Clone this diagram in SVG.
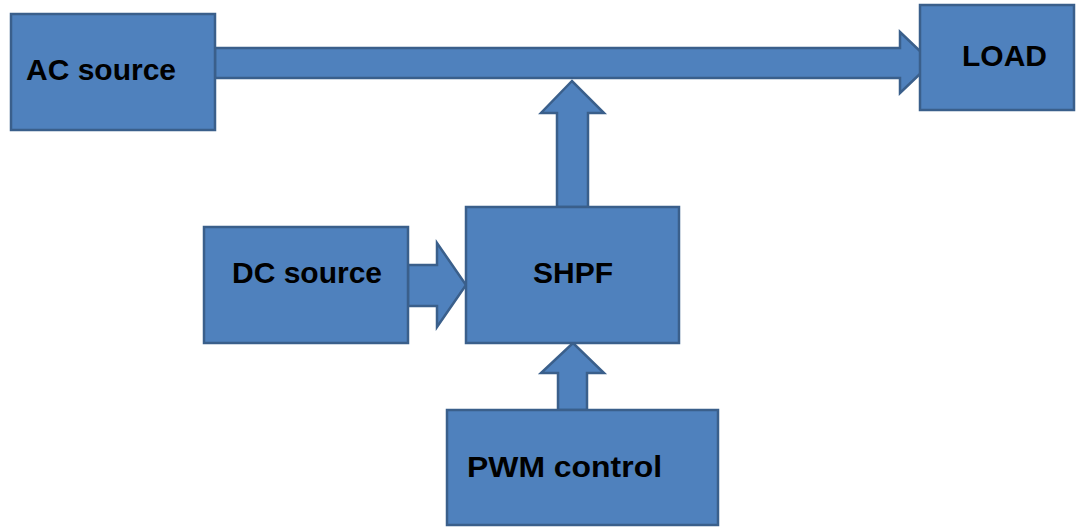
<svg xmlns="http://www.w3.org/2000/svg" width="1076" height="527" viewBox="0 0 1076 527">
<style>
.box{fill:#4F81BD;stroke:#3A5F8B;stroke-width:2.5}
.arr{fill:#4F81BD;stroke:#3A5F8B;stroke-width:2.5;stroke-linejoin:miter}
.lbl{font-family:"Liberation Sans",Arial,sans-serif;font-weight:bold;font-size:30px;fill:#000}
</style>
<rect width="1076" height="527" fill="#fff"/>
<g id="connectors">
<polygon class="arr" points="215,48 900,48 900,32 932,62.5 900,93 900,78 215,78"/>
<polygon class="arr" points="557,207 557,113 541,113 572,81 604,113 588,113 588,207"/>
<polygon class="arr" points="408,265 437,265 437,243 466,285 437,327 437,306 408,306"/>
<polygon class="arr" points="558,410 558,373 541,373 573,343 604,373 587,373 587,410"/>
</g>
<g id="ac-source">
<rect class="box" x="11" y="14" width="204" height="116"/>
<text class="lbl" x="26" y="80">AC source</text>
</g>
<g id="load">
<rect class="box" x="920" y="5" width="154" height="105"/>
<text class="lbl" x="962" y="66">LOAD</text>
</g>
<g id="dc-source">
<rect class="box" x="204" y="227" width="204" height="116"/>
<text class="lbl" x="232" y="283">DC source</text>
</g>
<g id="shpf">
<rect class="box" x="466" y="207" width="213" height="136"/>
<text class="lbl" x="533" y="283">SHPF</text>
</g>
<g id="pwm-control">
<rect class="box" x="447" y="410" width="271" height="115"/>
<text class="lbl" x="467" y="477" textLength="195" lengthAdjust="spacingAndGlyphs">PWM control</text>
</g>
</svg>
